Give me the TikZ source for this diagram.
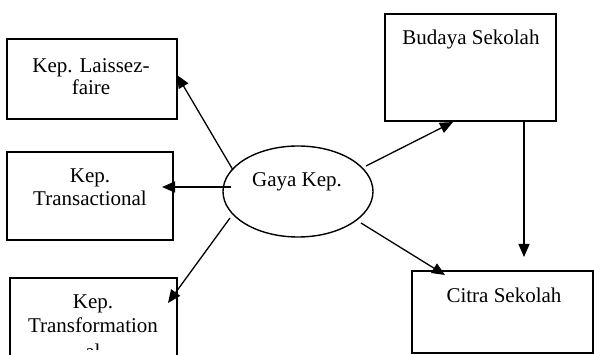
\documentclass[tikz,border=0pt]{standalone}
\usepackage{fontspec}
\setmainfont{Liberation Serif}
\usetikzlibrary{arrows.meta,shapes.geometric}
\begin{document}
\begin{tikzpicture}[x=1pt,y=-1pt,
  boxnode/.style={draw=black,line width=1.4pt,rectangle,inner sep=0pt},
  ellnode/.style={draw=black,line width=1.4pt,ellipse,inner sep=0pt,minimum width=150pt,minimum height=91pt},
  txt/.style={font=\fontsize{21}{23.5}\selectfont,align=center,inner sep=0pt,anchor=base},
  conn/.style={line width=1.3pt,-{Triangle[length=13pt,width=11pt]}}]
\useasboundingbox (0,0) rectangle (594,355);
\clip (0,0) rectangle (594,355);
% boxes
\node[boxnode,minimum width=170pt,minimum height=80pt] (lf) at (92,79) {};
\node[boxnode,minimum width=166pt,minimum height=88pt] (tr) at (90,196) {};
\node[boxnode,minimum width=167pt,minimum height=122pt] (tf) at (93.5,339) {};
\node[boxnode,minimum width=171pt,minimum height=107pt] (bs) at (470.5,67.5) {};
\node[boxnode,minimum width=181pt,minimum height=82pt] (cs) at (502.5,312) {};
\node[ellnode] (g) at (298,191.5) {};
% texts
\node[txt] (lft1) at (91,73) {Kep. Laissez-};
\node[txt] (lft2) at (91,95) {faire};
\node[txt] (trt1) at (90,183) {Kep.};
\node[txt] (trt2) at (90,206) {Transactional};
\node[txt] (tft1) at (93,308) {Kep.};
\node[txt] (tft2) at (93,332) {Transformation};
\begin{scope}
\clip (12,280) rectangle (175,349.5);
\node[txt] (tft3) at (93,358) {al};
\end{scope}
\node[txt] (bst) at (471,45) {Budaya Sekolah};
\node[txt] (cst) at (504,302) {Citra Sekolah};
\node[txt] (gt) at (297,187) {Gaya Kep.};
% connector ends
\coordinate (g1) at (233,170); \coordinate (lfe) at (177,75);
\coordinate (g2) at (231,187); \coordinate (tre) at (162,187);
\coordinate (g3) at (230,218); \coordinate (tfe) at (168,303);
\coordinate (g4) at (366,166); \coordinate (bse) at (453,122);
\coordinate (g5) at (361,223); \coordinate (cse) at (445,275);
\coordinate (bsb) at (524,121); \coordinate (csb) at (524,257);
\draw[conn] (g1) -- (lfe);
\draw[conn] (g2) -- (tre);
\draw[conn] (g3) -- (tfe);
\draw[conn] (g4) -- (bse);
\draw[conn] (g5) -- (cse);
\draw[conn] (bsb) -- (csb);
\end{tikzpicture}
\end{document}
